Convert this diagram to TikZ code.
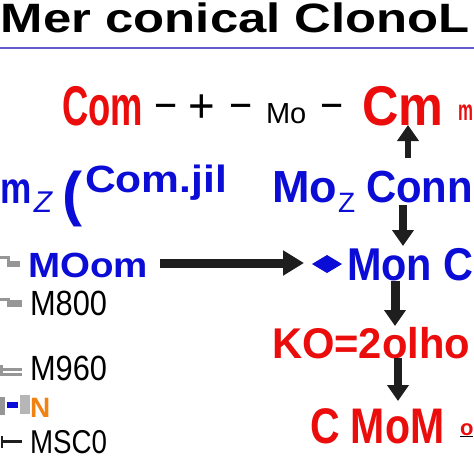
\documentclass[tikz,border=0pt]{standalone}
\usepackage{fontspec}
\setmainfont{Liberation Sans}
\usetikzlibrary{arrows.meta}
\newcommand{\myfs}[1]{\fontsize{#1}{#1}\selectfont}
\definecolor{myred}{RGB}{235,12,12}
\definecolor{myblue}{RGB}{12,12,215}
\definecolor{myorange}{RGB}{240,130,20}
\definecolor{mygray}{RGB}{150,150,150}
\definecolor{lineblue}{RGB}{100,90,210}
\definecolor{arrowblack}{RGB}{30,30,30}
\tikzset{
  T/.style={anchor=base west, inner sep=0pt, outer sep=0pt},
  bigarrow/.style={draw=arrowblack, line width=#1, -{Triangle[width=21pt,length=16pt]}},
}
\begin{document}
\begin{tikzpicture}[x=1pt,y=-1pt]
\useasboundingbox (0,0) rectangle (474,474);
\fill[white] (0,0) rectangle (474,474);
% title
\node[T, font={\myfs{41}\bfseries}] (title) at (1,32) {\scalebox{1.24}[1]{Mer conical ClonoL}};
\draw[lineblue, line width=1.5pt] (0,48) -- (474,48);
% row 1
\node[T, font={\myfs{56}\bfseries}, text=myred] (com) at (62,125) {\scalebox{0.65}[1]{Com}};
\node[T, font={\myfs{44}}] (m1) at (154,120) {\scalebox{0.9}[1]{−}};
\node[T, font={\myfs{48}}] (plus) at (188,122) {\scalebox{0.95}[1]{+}};
\node[T, font={\myfs{44}}] (m2) at (229,120) {\scalebox{0.9}[1]{−}};
\node[T, font={\myfs{29}}] (mo1) at (266,123) {Mo};
\node[T, font={\myfs{44}}] (m3) at (320,120) {\scalebox{0.9}[1]{−}};
\node[T, font={\myfs{56}\bfseries}, text=myred] (cm) at (362,125) {\scalebox{0.9}[1]{Cm}};
\node[T, font={\myfs{29}\bfseries}, text=myred] (msmall) at (458,120) {\scalebox{0.58}[1]{m}};
% row 2
\node[T, font={\myfs{44}\bfseries}, text=myblue] (mz) at (0.5,203) {\scalebox{0.8}[1]{m}};
\node[T, font={\myfs{30}\itshape}, text=myblue] (z1) at (34,212) {Z};
\node[T, font={\myfs{60}\bfseries}, text=myblue] (paren) at (62,214) {(};
\node[T, font={\myfs{38}\bfseries}, text=myblue] (comjil) at (85,192) {\scalebox{1.12}[1]{Com.jil}};
\node[T, font={\myfs{45}\bfseries}, text=myblue] (mo2) at (272,202) {Mo};
\node[T, font={\myfs{28}}, text=myblue] (z2) at (338,212) {Z};
\node[T, font={\myfs{45}\bfseries}, text=myblue] (conn) at (366,202) {\scalebox{0.93}[1]{Conn}};
% row 3
\node[T, font={\myfs{35}\bfseries}, text=myblue] (moom) at (28,277) {\scalebox{1.1}[1]{MOom}};
\node[T, font={\myfs{46}\bfseries}, text=myblue] (monc) at (347,280) {\scalebox{0.9}[1]{Mon C}};
\fill[myblue] (312,264) -- (327,255) -- (342,264) -- (327,273) -- cycle;
% row 5 and 8
\node[T, font={\myfs{43}\bfseries}, text=myred] (ko) at (272,358) {\scalebox{0.97}[1]{KO=2olho}};
\node[T, font={\myfs{50}\bfseries}, text=myred] (cmom) at (310,443) {\scalebox{0.82}[1]{C MoM}};
\node[T, font={\myfs{22}\bfseries}] (osmall) at (460,435) {\underline{\textcolor{myred}{o}}};
% left column
\node[T, font={\myfs{35}}] (m800) at (30,315) {\scalebox{0.88}[1]{M800}};
\node[T, font={\myfs{35}}] (m960) at (30,380) {\scalebox{0.88}[1]{M960}};
\node[T, font={\myfs{28}\bfseries}, text=myorange] (n) at (30,417) {N};
\node[T, font={\myfs{33}}] (msc0) at (30,453) {\scalebox{0.84}[1]{MSC0}};
% left icons
\fill[mygray] (0,256) rectangle (9,259);
\fill[mygray] (7,256) rectangle (10,267);
\fill[mygray] (10,261) rectangle (20,267);
\fill[mygray] (0,298) rectangle (9,301);
\fill[mygray] (7,298) rectangle (10,307);
\fill[mygray] (10,300) rectangle (22,307);
\fill[mygray] (0,365) rectangle (3,376);
\fill[mygray] (2,368) rectangle (22,371);
\fill[mygray] (2,373) rectangle (22,376);
\fill[mygray] (0,397) rectangle (5,415);
\fill[myblue] (7,402) rectangle (18,408);
\fill[mygray!70] (20,395) rectangle (30,414);
\fill[arrowblack] (1,436) rectangle (3,448);
\fill[arrowblack] (3,440) rectangle (22,443);
% arrow coordinates
\coordinate (a1s) at (408,158);
\coordinate (a1e) at (408,125);
\coordinate (a2s) at (403,205);
\coordinate (a2e) at (403,246);
\coordinate (a3s) at (160,263);
\coordinate (a3e) at (304,263);
\coordinate (a4s) at (395,281);
\coordinate (a4e) at (395,326);
\coordinate (a5s) at (398,358);
\coordinate (a5e) at (398,401);
\draw[bigarrow=6pt] (a1s) -- (a1e);
\draw[bigarrow=8pt] (a2s) -- (a2e);
\draw[draw=arrowblack, line width=9pt, -{Triangle[width=24pt,length=21pt]}] (a3s) -- (a3e);
\draw[bigarrow=9pt] (a4s) -- (a4e);
\draw[bigarrow=8pt] (a5s) -- (a5e);
\end{tikzpicture}
\end{document}
